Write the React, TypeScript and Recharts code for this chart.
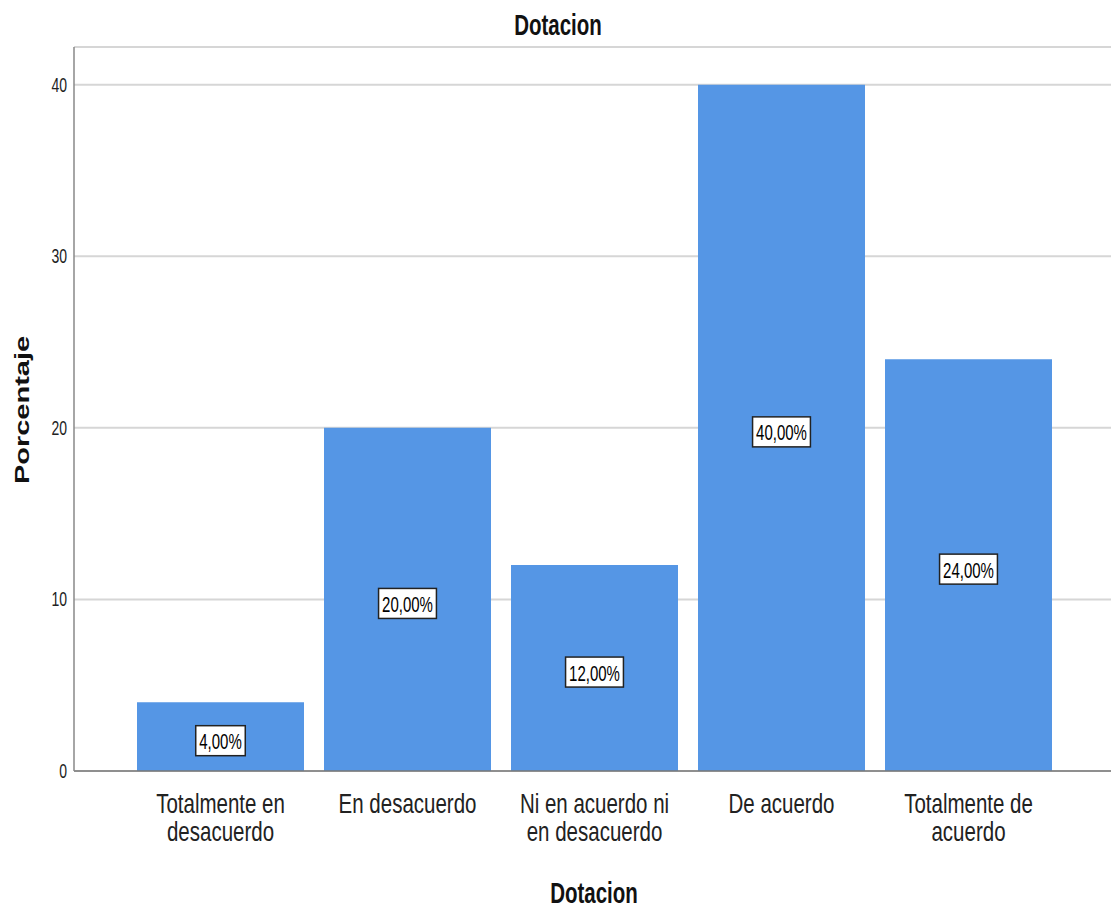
import React from 'react';
import { BarChart, Bar, XAxis, YAxis, CartesianGrid, LabelList, Customized } from 'recharts';

const categories = ['Totalmente en desacuerdo', 'En desacuerdo', 'Ni en acuerdo ni en desacuerdo', 'De acuerdo', 'Totalmente de acuerdo'];
const tickLines = [['Totalmente en', 'desacuerdo'], ['En desacuerdo'], ['Ni en acuerdo ni', 'en desacuerdo'], ['De acuerdo'], ['Totalmente de', 'acuerdo']];
const percentages = [4, 20, 12, 40, 24];
const yTicks = [0, 10, 20, 30, 40];
const chartTitle = 'Dotacion';
const xTitle = 'Dotacion';
const yTitle = 'Porcentaje';

const data = categories.map((c, i) => ({ name: c, value: percentages[i] }));

const FONT = '"Liberation Sans", Arial, sans-serif';
const SY = 1.45;
const SYT = 1.35;

const XTick = (props: any) => {
  const { x, y, payload } = props;
  const lines = tickLines[payload.index] || [String(payload.value)];
  return (
    <g transform={`translate(${x},${y}) scale(1,${SYT})`}>
      {lines.map((l, i) => (
        <text key={i} x={0} y={31 + i * 20.7} textAnchor="middle" fontFamily={FONT} fontSize={20.5} fill="#222">{l}</text>
      ))}
    </g>
  );
};

const YTick = (props: any) => {
  const { x, y, payload } = props;
  return (
    <g transform={`translate(${x},${y}) scale(1,${SY})`}>
      <text x={0} y={0} textAnchor="end" dominantBaseline="central" fontFamily={FONT} fontSize={14} fill="#222">{payload.value}</text>
    </g>
  );
};

const charW = (s: string) => {
  let w = 0;
  for (const ch of s) w += ch === ',' ? 0.278 : ch === '%' ? 0.889 : 0.556;
  return w;
};

const ValueLabel = (props: any) => {
  const { x, y, width, height, value } = props;
  const cx = x + width / 2;
  const cy = y + height / 2 + 4;
  const txt = Number(value).toFixed(2).replace('.', ',') + '%';
  const w = charW(txt) * 15 + 7;
  const h = 30;
  return (
    <g>
      <rect x={cx - w / 2} y={cy - h / 2} width={w} height={h} fill="#fff" stroke="#222" strokeWidth={1.5} />
      <g transform={`translate(${cx},${cy + 1}) scale(1,${SY})`}>
        <text x={0} y={0} textAnchor="middle" dominantBaseline="central" fontFamily={FONT} fontSize={15} fill="#000">{txt}</text>
      </g>
    </g>
  );
};

const Titles = () => (
  <g>
    <g transform={`translate(558,35) scale(1,${SY})`}>
      <text x={0} y={0} textAnchor="middle" fontFamily={FONT} fontWeight="bold" fontSize={20.5} fill="#111">{chartTitle}</text>
    </g>
    <g transform={`translate(594,903) scale(1,${SY})`}>
      <text x={0} y={0} textAnchor="middle" fontFamily={FONT} fontWeight="bold" fontSize={20.5} fill="#111">{xTitle}</text>
    </g>
    <g transform={`translate(29,410) rotate(-90) scale(${SY},1)`}>
      <text x={0} y={0} textAnchor="middle" fontFamily={FONT} fontWeight="bold" fontSize={20} fill="#111">{yTitle}</text>
    </g>
  </g>
);

export default function App() {
  return (
    <div style={{ position: 'absolute', left: 0, top: 0, width: 1111, height: 908, background: '#fff' }}>
      <BarChart width={1111} height={908} data={data} margin={{ top: 47, right: 0, left: 0, bottom: 0 }} barCategoryGap={10}>
        <CartesianGrid horizontal vertical={false} stroke="#d6d6d6" strokeWidth={2} />
        <XAxis dataKey="name" height={137} padding={{ left: 53, right: 49 }} axisLine={{ stroke: '#777', strokeWidth: 1.5 }} tickLine={false} tickSize={0} tickMargin={0} tick={<XTick />} interval={0} />
        <YAxis width={74} domain={[0, 42.2]} ticks={yTicks} axisLine={{ stroke: '#888', strokeWidth: 1.5 }} tickLine={false} tickSize={0} tickMargin={7} tick={<YTick />} allowDataOverflow />
        <Bar dataKey="value" fill="#5596E5" isAnimationActive={false}>
          <LabelList dataKey="value" content={<ValueLabel />} />
        </Bar>
        <Customized component={Titles} />
      </BarChart>
    </div>
  );
}
